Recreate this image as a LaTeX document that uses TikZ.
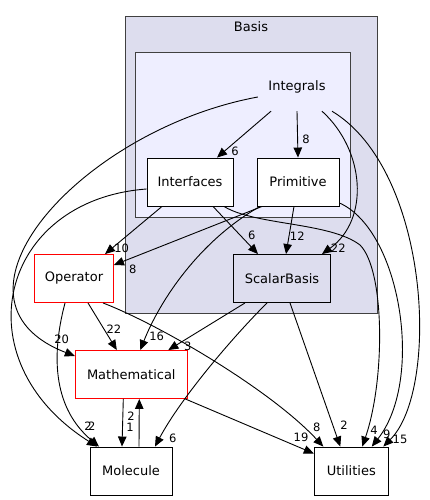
\documentclass[tikz,border=0pt]{standalone}
\usepackage{fontspec}
\setmainfont{DejaVu Sans}
\usetikzlibrary{arrows.meta,positioning,calc}
\definecolor{clusterout}{HTML}{DDDDEE}
\definecolor{clusterin}{HTML}{EEEEFF}
\definecolor{clusterline}{HTML}{404040}
\definecolor{dirred}{HTML}{FF0000}

\begin{document}
\begin{tikzpicture}[x=1pt,y=-1pt,
  dirbox/.style={draw,line width=0.9pt,fill=white,minimum height=48pt,inner sep=0pt,font=\fontsize{13}{15}\selectfont},
  reddir/.style={dirbox,draw=dirred},
  clusterbox/.style={draw=clusterline,line width=0.9pt},
  dep/.style={-{Triangle[length=10pt,width=8.5pt]},line width=0.9pt},
  lbl/.style={inner sep=0pt,font=\fontsize{11.5}{13}\selectfont}]
  \useasboundingbox (0,0) rectangle (429,500);

  \draw[clusterbox,fill=clusterout] (125,16) rectangle (377,313);
  \node[font=\fontsize{13}{15}\selectfont] (basis) at (251,27) {Basis};
  \draw[clusterbox,fill=clusterin] (135,52) rectangle (350,217);
  \node[minimum width=80pt,minimum height=48pt,inner sep=0pt,font=\fontsize{13}{15}\selectfont] (integ) at (297,87) {Integrals};

  \node[dirbox,minimum width=86pt] (intf) at (190,182) {Interfaces};
  \node[dirbox,minimum width=82pt] (prim) at (298,182) {Primitive};
  \node[dirbox,minimum width=97pt,fill=clusterout] (scal) at (282,278.5) {ScalarBasis};
  \node[reddir,minimum width=79pt] (oper) at (74,278.5) {Operator};
  \node[reddir,minimum width=112pt] (math) at (131.3,374.5) {Mathematical};
  \node[dirbox,minimum width=82pt] (mol) at (131,471) {Molecule};
  \node[dirbox,minimum width=74pt] (util) at (351.3,471) {Utilities};

  \draw[dep] ($(integ.south)+(-26,0)$) -- ($(intf.north)+(27,0)$);
  \draw[dep] (integ.south) -- (prim.north);
  \draw[dep] ($(integ.south)+(25,0)$) .. controls +(43,39) and +(48,-34.5) .. ($(scal.north)+(40,0)$);
  \draw[dep] ($(integ.south)+(35,0)$) .. controls +(98,59) and +(57,-57) .. ($(util.north)+(32,0)$);
  \draw[dep] ($(integ.west)+(1,10)$) .. controls +(-178,33) and +(-145,-56) .. ($(math.west)+(0,-18.5)$);
  \draw[dep] ($(intf.west)+(0,7)$) .. controls +(-147,11) and +(-137,-87) .. ($(mol.north)+(-34,0)$);
  \draw[dep] ($(intf.south)+(-28,0)$) -- ($(oper.north)+(31,0)$);
  \draw[dep] ($(intf.south)+(23,0)$) -- ($(scal.north)+(-24,0)$);
  \draw[dep] ($(intf.south)+(34,0)$) .. controls +(31,19) and +(-30,-23) .. (360,245)
    .. controls +(25,25) and +(23,-67) .. ($(util.north)+(11,0)$);
  \draw[dep] ($(prim.south)+(-36,0)$) -- ($(oper.east)+(0,-13.5)$);
  \draw[dep] ($(prim.south)+(-4,0)$) -- ($(scal.north)+(4,0)$);
  \draw[dep] ($(prim.east)+(0,21)$) .. controls +(61,27) and +(53,-67) .. ($(util.north)+(20.5,0)$);
  \draw[dep] ($(prim.south)+(-38,0)$) .. controls +(-60,34) and +(20,-50.5) .. ($(math.north)+(9,0)$);
  \draw[dep] ($(scal.south)+(-37,0)$) -- ($(math.north)+(37,0)$);
  \draw[dep] ($(scal.south)+(-15,0)$) .. controls +(-37,37) and +(25,-47) .. ($(mol.north)+(24,0)$);
  \draw[dep] ($(scal.south)+(8,0)$) -- ($(util.north)+(-11,0)$);
  \draw[dep] ($(oper.south)+(14,0)$) -- ($(math.north)+(-14.5,0)$);
  \draw[dep] ($(oper.south)+(-9,0)$) .. controls +(-15,57) and +(-44,-37) .. ($(mol.north)+(-32,0)$);
  \draw[dep] ($(oper.south)+(29,0)$) .. controls +(57,22) and +(-53,-57) .. ($(util.north)+(-28,0)$);
  \draw[dep] ($(math.south)+(-8,0)$) -- ($(mol.north)+(-9,0)$);
  \draw[dep] ($(mol.north)+(8,0)$) -- ($(math.south)+(8,0)$);
  \draw[dep] ($(math.south)+(54,0)$) -- ($(util.west)+(0,-17.5)$);

  \node[lbl] at (235,151.7) {6};
  \node[lbl] at (306,139.3) {8};
  \node[lbl] at (338.3,248.3) {22};
  \node[lbl] at (400,439.3) {15};
  \node[lbl] at (61.7,339.3) {20};
  \node[lbl] at (88,426.7) {2};
  \node[lbl] at (91.7,426.7) {2};
  \node[lbl] at (121.7,248.3) {10};
  \node[lbl] at (251.7,235) {6};
  \node[lbl] at (374,430) {4};
  \node[lbl] at (132.7,269) {8};
  \node[lbl] at (297.3,236.7) {12};
  \node[lbl] at (386.7,434) {9};
  \node[lbl] at (156.7,336.7) {16};
  \node[lbl] at (187.7,346.7) {3};
  \node[lbl] at (172.7,438.3) {6};
  \node[lbl] at (344,425) {2};
  \node[lbl] at (114,329.3) {22};
  \node[lbl] at (316.7,427.7) {8};
  \node[lbl] at (130,427.3) {1};
  \node[lbl] at (131,416) {2};
  \node[lbl] at (301,437.7) {19};
\end{tikzpicture}
\end{document}
